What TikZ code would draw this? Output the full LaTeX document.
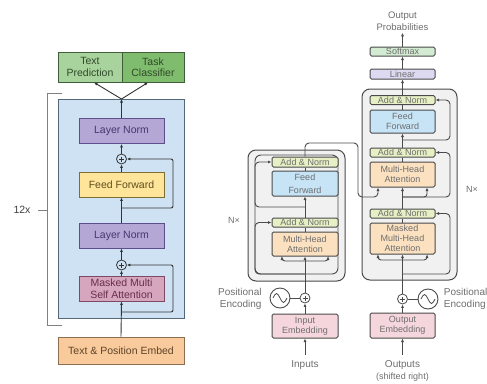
\documentclass[tikz,border=0pt]{standalone}
\usepackage{fontspec}
\setmainfont{Liberation Sans}
\usetikzlibrary{arrows.meta}
\definecolor{lgreen}{HTML}{A9D39C}
\definecolor{dgreen}{HTML}{80BC6E}
\definecolor{grbd}{HTML}{3F5F3A}
\definecolor{grtxt}{HTML}{2F4A2A}
\definecolor{bluebg}{HTML}{CFE2F3}
\definecolor{bluebd}{HTML}{55687A}
\definecolor{purp}{HTML}{B4A7D6}
\definecolor{purpbd}{HTML}{5E4F8C}
\definecolor{purptx}{HTML}{45386E}
\definecolor{yel}{HTML}{FFE599}
\definecolor{yelbd}{HTML}{7F6E33}
\definecolor{yeltx}{HTML}{5E4E1E}
\definecolor{pinkc}{HTML}{D5A6BD}
\definecolor{pinkbd}{HTML}{7E4A63}
\definecolor{pinktx}{HTML}{6A2E4A}
\definecolor{orng}{HTML}{F9CB9C}
\definecolor{orngbd}{HTML}{8C6E50}
\definecolor{orngtx}{HTML}{5E4228}
\definecolor{anfill}{HTML}{E6F0C4}
\definecolor{fffill}{HTML}{C6E4F6}
\definecolor{attfill}{HTML}{FBE1C0}
\definecolor{embfill}{HTML}{F6D6DD}
\definecolor{smfill}{HTML}{D3EBD3}
\definecolor{linfill}{HTML}{DCD9F0}
\definecolor{boxfill}{HTML}{F1F1F1}
\definecolor{bd}{HTML}{4A4A4A}
\definecolor{txtgray}{HTML}{6E6E6E}
\definecolor{linec}{HTML}{333333}
\begin{document}
\begin{tikzpicture}[x=1pt,y=-1pt,
  lbox/.style={draw, line width=0.9pt, minimum width=85pt, minimum height=25pt, inner sep=1pt,
     font=\fontsize{10.5}{12.5}\selectfont, align=center},
  rbox/.style={draw=bd, line width=1pt, rounded corners=1.5pt, minimum width=64pt, inner sep=0pt,
     font=\fontsize{9}{10}\selectfont, text=txtgray, align=center},
  rlabel/.style={font=\fontsize{10}{12}\selectfont, text=txtgray, inner sep=1pt},
  arr/.style={-{Latex[length=3.5pt,width=3pt]}},
  plus/.style={circle, draw, line width=0.8pt, minimum size=10pt, inner sep=0pt,
     path picture={\draw[line width=0.7pt] ([yshift=-2.5pt]path picture bounding box.north) -- ([yshift=2.5pt]path picture bounding box.south)
       ([xshift=2.5pt]path picture bounding box.west) -- ([xshift=-2.5pt]path picture bounding box.east);}},
  sine/.style={circle, draw=bd, line width=0.9pt, minimum size=20pt, inner sep=0pt}
]
\useasboundingbox (0,0) rectangle (487,383);

% ---------------- left: GPT ----------------
\begin{scope}[linec, line width=0.9pt]
\draw[draw=bluebd, fill=bluebg, line width=1pt] (58,99) rectangle (184,318);
\node[lbox, minimum width=64pt, minimum height=30pt, fill=lgreen, draw=grbd, text=grtxt, font=\fontsize{10.5}{11.5}\selectfont] (tp) at (90,67) {Text\\Prediction};
\node[lbox, minimum width=62pt, minimum height=30pt, fill=dgreen, draw=grbd, text=grtxt, font=\fontsize{10.5}{11.5}\selectfont] (tc) at (153,67) {Task\\Classifier};
\draw[gray, line width=1pt] (62,93) -- (47,93) -- (47,325) -- (62,325);
\draw[gray, line width=1pt] (38,210) -- (47,210);
\node[font=\fontsize{10.5}{12}\selectfont, text=darkgray] (n12) at (22,210) {12x};

\node[lbox, fill=purp, draw=purpbd, text=purptx] (ln1) at (121.5,131) {Layer Norm};
\node[plus] (p1) at (121.5,159) {};
\node[lbox, fill=yel, draw=yelbd, text=yeltx] (ff) at (121.5,184.5) {Feed Forward};
\node[lbox, fill=purp, draw=purpbd, text=purptx] (ln2) at (121.5,235.5) {Layer Norm};
\node[plus] (p2) at (121.5,265) {};
\node[lbox, fill=pinkc, draw=pinkbd, text=pinktx] (mm) at (121.5,288.5) {Masked Multi\\Self Attention};
\node[lbox, minimum width=126pt, minimum height=27pt, fill=orng, draw=orngbd, text=orngtx] (emb) at (121,350.5) {Text \& Position Embed};

\coordinate (btop) at (121.5,99);
\coordinate (r1) at (121.5,208);
\coordinate (r2) at (121.5,312);
\draw[arr] (emb.north) -- (mm.south);
\draw[arr] (mm.north) -- (p2.south);
\draw[arr] (p2.north) -- (ln2.south);
\draw[arr] (ln2.north) -- (ff.south);
\draw[arr] (ff.north) -- (p1.south);
\draw[arr] (p1.north) -- (ln1.south);
\draw[arr] (ln1.north) -- (btop);
\draw[arr] (btop) -- ([xshift=4pt]tp.south);
\draw[arr] (btop) -- ([xshift=-5pt]tc.south);
\draw[arr, rounded corners=2pt] (r1) -- (173,208) |- (p1.east);
\draw[arr, rounded corners=2pt] (r2) -- (173,312) |- (p2.east);
\end{scope}

% ---------------- right: Transformer ----------------
\begin{scope}[bd, line width=0.9pt]
% encoder
\draw[fill=boxfill, line width=1pt, rounded corners=8pt] (248,150) rectangle (345,281);
\draw[rounded corners=6pt] (255,155) rectangle (338,274);
\node[rbox, fill=anfill, minimum width=66pt, minimum height=10pt] (anE2) at (305,162) {Add \& Norm};
\node[rbox, fill=fffill, minimum width=66pt, minimum height=25pt, font=\fontsize{9}{13}\selectfont] (ffE) at (305,183.5) {Feed\\Forward};
\node[rbox, fill=anfill, minimum width=66pt, minimum height=9pt] (anE1) at (305,222.5) {Add \& Norm};
\node[rbox, fill=attfill, minimum width=66pt, minimum height=24pt] (mhaE) at (305,244) {Multi-Head\\Attention};
\node[plus, draw=bd] (plusE) at (305,298) {};
\node[sine] (sinE) at (280,298) {};
\draw[line width=0.8pt] ([xshift=-7pt]sinE.center) sin ++(3.5,-4.5) cos ++(3.5,4.5) sin ++(3.5,4.5) cos ++(3.5,-4.5);
\node[rbox, fill=embfill, minimum width=66pt, minimum height=24pt] (embE) at (305,326) {Input\\Embedding};
\node[rlabel] (inputs) at (305,365) {Inputs};
\node[rlabel, align=right, anchor=east] (peE) at (263,298.5) {Positional\\Encoding};
\node[rlabel, font=\fontsize{9}{10}\selectfont] (nE) at (234,220) {N×};

\coordinate (fkE) at (305,261);
\coordinate (rFE) at (305,207);
\coordinate (rAE) at (305,274);
\draw[arr] ([yshift=4pt]inputs.north) -- (embE.south);
\draw[arr] (embE.north) -- (plusE.south);
\draw (sinE.east) -- (plusE.west);
\draw[arr] (plusE.north) -- (mhaE.south);
\draw[arr, rounded corners=3pt] (fkE) -| ([xshift=-23pt]mhaE.south);
\draw[arr, rounded corners=3pt] (fkE) -| ([xshift=23pt]mhaE.south);
\draw (mhaE.north) -- (anE1.south);
\draw[arr] (anE1.north) -- (ffE.south);
\draw (ffE.north) -- (anE2.south);
\draw[arr, rounded corners=4pt] (rFE) -- (255,207) |- (anE2.west);
\draw[arr, rounded corners=4pt] (rAE) -- (255,274) |- (anE1.west);

% decoder
\draw[fill=boxfill, line width=1pt, rounded corners=8pt] (362,89) rectangle (457,280);
\node[rbox, fill=smfill, minimum width=65pt, minimum height=9pt] (smD) at (402.5,51.5) {Softmax};
\node[rbox, fill=linfill, minimum width=65pt, minimum height=10pt] (linD) at (402.5,74) {Linear};
\node[rbox, fill=anfill, minimum width=65pt, minimum height=9pt] (anD3) at (402.5,100) {Add \& Norm};
\node[rbox, fill=fffill, minimum width=65pt, minimum height=23pt] (ffD) at (402.5,121.5) {Feed\\Forward};
\node[rbox, fill=anfill, minimum width=65pt, minimum height=9pt] (anD2) at (402.5,152.5) {Add \& Norm};
\node[rbox, fill=attfill, minimum width=65pt, minimum height=25pt] (mhaD2) at (402.5,174.5) {Multi-Head\\Attention};
\node[rbox, fill=anfill, minimum width=65pt, minimum height=9pt] (anD1) at (402.5,213.5) {Add \& Norm};
\node[rbox, fill=attfill, minimum width=65pt, minimum height=31pt] (mmD) at (402.5,238.5) {Masked\\Multi-Head\\Attention};
\node[plus, draw=bd] (plusD) at (402.5,299) {};
\node[sine] (sinD) at (428,299) {};
\draw[line width=0.8pt] ([xshift=-7pt]sinD.center) sin ++(3.5,-4.5) cos ++(3.5,4.5) sin ++(3.5,4.5) cos ++(3.5,-4.5);
\node[rbox, fill=embfill, minimum width=65pt, minimum height=25pt] (embD) at (402.5,325.5) {Output\\Embedding};
\node[rlabel] (outs) at (402.5,365) {Outputs};
\node[rlabel, font=\fontsize{9}{10}\selectfont] (shr) at (402.5,377) {(shifted right)};
\node[rlabel, align=left, anchor=west] (peD) at (442.5,298.5) {Positional\\Encoding};
\node[rlabel, align=center, font=\fontsize{9.5}{12}\selectfont] (prob) at (402.5,21) {Output\\Probabilities};
\node[rlabel, font=\fontsize{9}{10}\selectfont] (nD) at (472,189) {N×};

\coordinate (fkD) at (402.5,260);
\coordinate (rAD) at (402.5,274);
\coordinate (fk2) at (402.5,197);
\coordinate (rFD) at (402.5,140);
\draw[arr] ([yshift=4pt]outs.north) -- (embD.south);
\draw[arr] (embD.north) -- (plusD.south);
\draw (plusD.east) -- (sinD.west);
\draw[arr] (plusD.north) -- (mmD.south);
\draw[arr, rounded corners=3pt] (fkD) -| ([xshift=-24.5pt]mmD.south);
\draw[arr, rounded corners=3pt] (fkD) -| ([xshift=24.5pt]mmD.south);
\draw[arr, rounded corners=4pt] (rAD) -- (450,274) |- (anD1.east);
\draw (mmD.north) -- (anD1.south);
\draw[arr] (anD1.north) -- (mhaD2.south);
\draw[arr, rounded corners=3pt] (fk2) -| ([xshift=24.5pt]mhaD2.south);
\draw[arr, rounded corners=4pt] (fk2) -- (450,197) |- (anD2.east);
\draw (mhaD2.north) -- (anD2.south);
\draw[arr] (anD2.north) -- (ffD.south);
\draw[arr, rounded corners=4pt] (rFD) -- (450,140) |- (anD3.east);
\draw (ffD.north) -- (anD3.south);
\draw[arr] (anD3.north) -- (linD.south);
\draw[arr] (linD.north) -- (smD.south);
\draw[arr] (smD.north) -- ([yshift=-1pt]prob.south);

% encoder output to decoder
\draw[arr, rounded corners=4pt] (anE2.north) -- (305,143) -- (358,143) -- (358,197) -| ([xshift=-24.5pt]mhaD2.south);
\end{scope}
\end{tikzpicture}
\end{document}
